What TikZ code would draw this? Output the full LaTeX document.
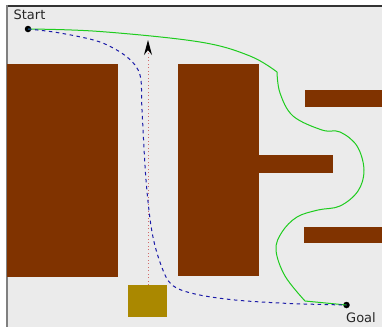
\documentclass[tikz,border=0pt]{standalone}
\usepackage{fontspec}
\setmainfont{DejaVu Sans}
\usetikzlibrary{arrows.meta}
\definecolor{floor}{HTML}{EBEBEB}
\definecolor{wall}{HTML}{803300}
\definecolor{crate}{HTML}{AA8800}
\definecolor{pathgreen}{HTML}{1ECC1E}
\definecolor{pathblue}{HTML}{1A1AA8}
\definecolor{headred}{HTML}{D06A6A}
\tikzset{
  block/.style={fill=wall, draw=none},
  waypoint/.style={circle, fill=black, inner sep=0pt, minimum size=6.5pt},
  caption/.style={font=\fontsize{13}{15}\selectfont, text=black!85, inner sep=0pt},
  smoothpath/.style={line width=1pt, pathgreen},
  shortpath/.style={line width=1pt, pathblue, dash pattern=on 3.5pt off 3.5pt},
  heading/.style={line width=0.9pt, headred, dash pattern=on 1pt off 2.5pt,
    -{Stealth[black, length=15pt, width=8pt, inset=5pt]}},
}
\begin{document}
\begin{tikzpicture}[x=1pt, y=-1pt]
  \useasboundingbox (0,0) rectangle (382,327);
  % arena floor and frame
  \fill[floor] (6,5) rectangle (382,327);
  \draw[black!80, line width=1.5pt] (6,5.8) -- (382,5.8);
  \draw[black!50, line width=1.7pt] (6.8,5) -- (6.8,327);
  % walls
  \fill[block] (7,64) rectangle (118,277);
  \fill[block] (178,64) rectangle (259,276);
  \fill[block] (259,155) rectangle (333,173);
  \fill[block] (305,90) rectangle (382,107);
  \fill[block] (304,227) rectangle (382,243);
  % crate with its heading
  \node[fill=crate, minimum width=39pt, minimum height=32pt, inner sep=0pt, anchor=north west]
    (crate) at (128,285) {};
  \coordinate (tip) at (148,40);
  \draw[heading] (crate.north -| tip) -- (tip);
  % start and goal
  \node[waypoint] (start) at (28,29) {};
  \node[waypoint] (goal) at (346.5,305) {};
  \node[caption] (startlbl) at (29.5,14.5) {Start};
  \node[caption] (goallbl) at (361,317.5) {Goal};
  % planned paths
  \draw[smoothpath] plot[smooth, tension=0.6] coordinates
    {(start.center) (100,31.5) (200,42) (250,56) (277,72)};
  \draw[smoothpath] plot[smooth, tension=0.6] coordinates
    {(277,72) (280,93) (293,116) (322,130) (340,132) (357,146) (364,170)
     (358,191) (340,206) (318,210) (297,217) (282,232) (276,250) (285,276) (305,301)}
    -- (goal.center);
  \draw[shortpath] plot[smooth, tension=0.55] coordinates
    {(start.center) (60,33) (100,42) (127,57) (140,75) (142,110) (146,180)
     (152,232) (161,265) (172,285) (195,294) (235,300) (290,303.5) (goal.center)};
\end{tikzpicture}
\end{document}
